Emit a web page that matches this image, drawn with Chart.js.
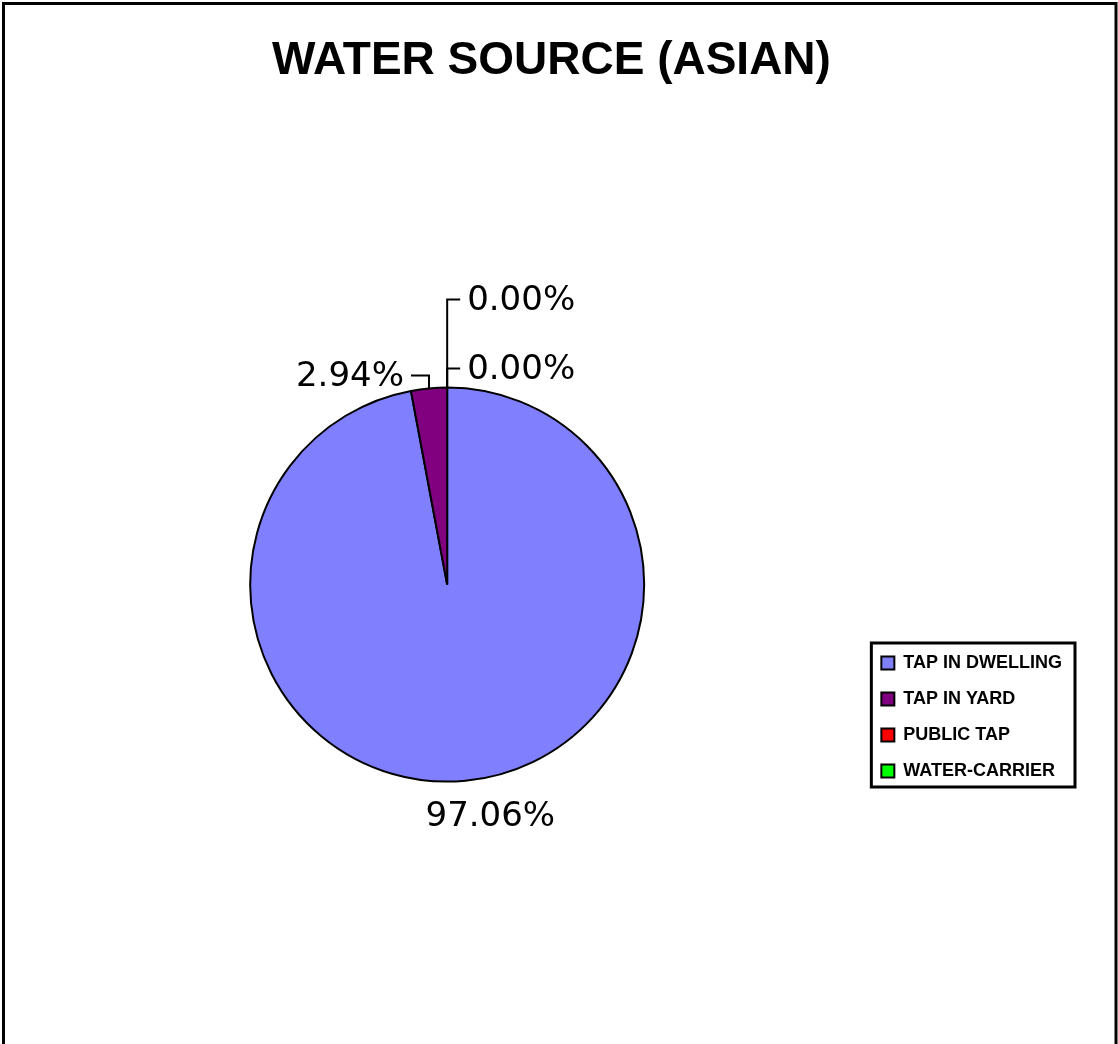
<!DOCTYPE html>
<html><head><meta charset="utf-8">
<script src="https://cdn.jsdelivr.net/npm/chart.js@4"></script>
<style>html,body{margin:0;padding:0;background:#fff}#wrap{width:1118px;height:1044px}</style>
</head><body><div id="wrap"><canvas id="c" width="1118" height="1044"></canvas></div>
<script>
const titleText = 'WATER SOURCE (ASIAN)';
const categories = ['TAP IN DWELLING', 'TAP IN YARD', 'PUBLIC TAP', 'WATER-CARRIER'];
const households = [33, 1, 0, 0];
const sliceColors = ['#8080FF', '#800080', '#FF0000', '#00FF00'];
// leader line style per slice: [dx, dy] from slice edge to leader end; null = label without leader
const leaderEnds = [null, [-18, -13], [13, -19], [13, -88]];
const plainLabelOffset = [25, 33];

const pageFrame = {
  id: 'pageFrame',
  beforeDraw(chart) {
    const ctx = chart.ctx;
    ctx.save();
    ctx.fillStyle = '#fff';
    ctx.fillRect(0, 0, chart.width, chart.height);
    ctx.strokeStyle = '#000';
    ctx.lineWidth = 3;
    ctx.strokeRect(3.5, 3.5, 1112.5, 1100);
    ctx.restore();
  }
};

const pctLabels = {
  id: 'pctLabels',
  afterDatasetsDraw(chart) {
    const ctx = chart.ctx;
    const meta = chart.getDatasetMeta(0);
    const total = households.reduce((a, b) => a + b, 0);
    const size = 34;
    const capH = size * 0.729;
    ctx.save();
    ctx.font = size + 'px "DejaVu Sans"';
    ctx.fillStyle = '#000';
    ctx.strokeStyle = '#000';
    ctx.lineWidth = 2;
    ctx.textBaseline = 'alphabetic';
    meta.data.forEach((arc, i) => {
      const p = arc.getProps(['x', 'y', 'startAngle', 'endAngle', 'outerRadius'], true);
      const mid = (p.startAngle + p.endAngle) / 2;
      const ex = p.x + p.outerRadius * Math.cos(mid);
      const ey = p.y + p.outerRadius * Math.sin(mid);
      const text = (households[i] / total * 100).toFixed(2) + '%';
      const le = leaderEnds[i];
      if (!le) {
        ctx.textAlign = 'center';
        ctx.fillText(text, ex + plainLabelOffset[0], ey + plainLabelOffset[1] + capH / 2);
      } else {
        const lx = ex + le[0], ly = ey + le[1];
        ctx.beginPath();
        ctx.moveTo(ex, ey);
        ctx.lineTo(ex, ly);
        ctx.lineTo(lx, ly);
        ctx.stroke();
        const right = le[0] > 0;
        ctx.textAlign = right ? 'left' : 'right';
        ctx.fillText(text, lx + (right ? 7 : -7), ly - 2 + capH / 2);
      }
    });
    ctx.restore();
  }
};

const legendFrame = {
  id: 'legendFrame',
  afterDraw(chart) {
    const hb = chart.legend && chart.legend.legendHitBoxes;
    if (!hb || !hb.length) return;
    const ctx = chart.ctx;
    const l = Math.min(...hb.map(h => h.left)) - 10;
    const r = Math.max(...hb.map(h => h.left + h.width)) + 13;
    const t = Math.min(...hb.map(h => h.top)) - 11;
    const b = Math.max(...hb.map(h => h.top + h.height)) + 7;
    ctx.save();
    ctx.strokeStyle = '#000';
    ctx.lineWidth = 3;
    ctx.strokeRect(l, t, r - l, b - t);
    ctx.restore();
  }
};

new Chart(document.getElementById('c'), {
  type: 'pie',
  data: {
    labels: categories,
    datasets: [{
      data: households,
      backgroundColor: sliceColors,
      borderColor: '#000',
      borderWidth: 2,
      radius: 197,
      hoverOffset: 0
    }]
  },
  options: {
    responsive: false,
    animation: false,
    devicePixelRatio: 1,
    layout: { padding: { left: 31, right: 46, top: 0, bottom: 246 } },
    plugins: {
      title: {
        display: true,
        text: titleText,
        color: '#000',
        font: { family: '"Liberation Sans", Arial, sans-serif', size: 46, weight: 'bold', lineHeight: 1.2 },
        padding: { top: 34, bottom: 282 }
      },
      legend: {
        position: 'right',
        align: 'end',
        labels: {
          color: '#000',
          boxWidth: 13,
          boxHeight: 13,
          padding: 18,
          font: { family: '"Liberation Sans", Arial, sans-serif', size: 18, weight: 'bold' }
        }
      },
      tooltip: { enabled: false }
    }
  },
  plugins: [pageFrame, pctLabels, legendFrame]
});
</script>
</body></html>
